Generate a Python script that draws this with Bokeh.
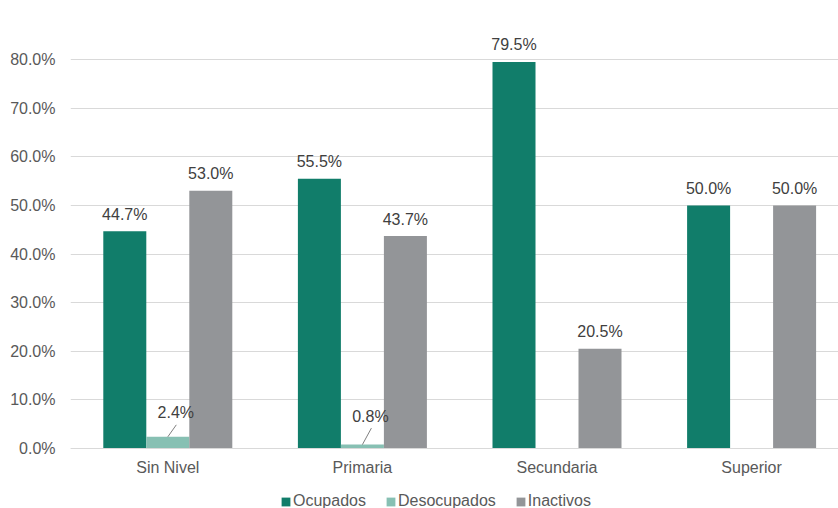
from bokeh.plotting import figure
from bokeh.models import (ColumnDataSource, Range1d, FixedTicker, PrintfTickFormatter,
                          Legend, LegendItem)
from bokeh.embed import file_html
from bokeh.resources import INLINE
from bokeh.core.properties import value

# ---- data ----
categories = ["Sin Nivel", "Primaria", "Secundaria", "Superior"]
ocupados = [44.7, 55.5, 79.5, 50.0]
desocupados = [2.4, 0.8, 0.0, 0.0]
inactivos = [53.0, 43.7, 20.5, 50.0]
series_names = ["Ocupados", "Desocupados", "Inactivos"]
y_ticks = [0, 10, 20, 30, 40, 50, 60, 70, 80]

# ---- style ----
colors = ["#117D6A", "#87C0B3", "#939598"]
FONT = "Liberation Sans"
W, H = 838, 508
LEFT, TOP = 70, 10
BELOW_ZERO = 60                 # pixels between the 0% line and the bottom edge
frame_w = W - LEFT
frame_h = H - TOP
cat_px = 194.6                 # pixels per category
px_per_pct = 389 / 80.0        # pixels per percentage point
x_end = frame_w / cat_px
y_start = -BELOW_ZERO / px_per_pct
y_end = (frame_h - BELOW_ZERO) / px_per_pct
bar_w = 43 / cat_px

p = figure(width=W, height=H, output_backend="svg", toolbar_location=None,
           x_range=Range1d(0, x_end), y_range=Range1d(y_start, y_end),
           min_border_left=LEFT, min_border_right=0, min_border_top=TOP,
           min_border_bottom=0, outline_line_color=None)

centers = [i + 0.5 for i in range(len(categories))]
offsets = [-bar_w, 0.0, bar_w]
series = [ocupados, desocupados, inactivos]

renderers = []
for k, (vals, col) in enumerate(zip(series, colors)):
    xs = [c + offsets[k] for c in centers]
    src = ColumnDataSource(dict(x=xs, top=vals))
    r = p.vbar(x="x", top="top", width=bar_w, bottom=0, source=src,
               fill_color=col, line_color=None)
    renderers.append(r)

# data labels for Ocupados and Inactivos (above bars)
for k in (0, 2):
    xs = [c + offsets[k] for c in centers]
    vals = series[k]
    src = ColumnDataSource(dict(x=xs, y=vals, t=[f"{v:.1f}%" for v in vals]))
    p.text(x="x", y="y", text="t", source=src, text_align="center",
           text_baseline="middle", y_offset=-17, text_color="#404040",
           text_font=value(FONT), text_font_size="16px")

# data labels for Desocupados (with leader lines), only non-zero
dx, dy, lt, lx = [], [], [], []
lab_dy = [-24.5, -28]
line_top = [-12, -16.5]
line_dx = [8.5, 9]
seg = dict(x0=[], y0=[], x1=[], y1=[])
j = 0
for c, v in zip(centers, desocupados):
    if v <= 0:
        continue
    xc = c + offsets[1]
    dx.append(xc + 8 / cat_px)
    dy.append(v)
    lt.append(f"{v:.1f}%")
    lx.append(lab_dy[j])
    seg["x0"].append(xc)
    seg["y0"].append(v)
    seg["x1"].append(xc + line_dx[j] / cat_px)
    seg["y1"].append(v - line_top[j] / px_per_pct)
    j += 1
p.segment(x0="x0", y0="y0", x1="x1", y1="y1", source=ColumnDataSource(seg),
          line_color="#7f7f7f", line_width=1)
p.text(x="x", y="y", text="t", y_offset="yo",
       source=ColumnDataSource(dict(x=dx, y=dy, t=lt, yo=lx)),
       text_align="center", text_baseline="middle", text_color="#404040",
       text_font=value(FONT), text_font_size="16px")

# ---- axes ----
p.xaxis.fixed_location = 0
p.xaxis.ticker = FixedTicker(ticks=centers)
p.xaxis.major_label_overrides = {c: n for c, n in zip(centers, categories)}
p.xaxis.major_tick_line_color = None
p.xaxis.major_tick_out = 0
p.xaxis.major_tick_in = 0
p.xaxis.minor_tick_line_color = None
p.xaxis.axis_line_color = "#d9d9d9"
p.xaxis.major_label_standoff = 10
p.xaxis.major_label_text_font = FONT
p.xaxis.major_label_text_font_size = "16px"
p.xaxis.major_label_text_color = "#595959"

p.yaxis.ticker = FixedTicker(ticks=y_ticks)
p.yaxis.formatter = PrintfTickFormatter(format="%.1f%%")
p.yaxis.axis_line_color = None
p.yaxis.major_tick_line_color = None
p.yaxis.major_tick_out = 0
p.yaxis.major_tick_in = 0
p.yaxis.minor_tick_line_color = None
p.yaxis.major_label_standoff = 15
p.yaxis.major_label_text_font = FONT
p.yaxis.major_label_text_font_size = "16px"
p.yaxis.major_label_text_color = "#595959"

p.xgrid.grid_line_color = None
p.ygrid.grid_line_color = "#d9d9d9"
p.ygrid.grid_line_width = 1

# ---- legend ----
items = [LegendItem(label=n, renderers=[r]) for n, r in zip(series_names, renderers)]
legend = Legend(items=items, orientation="horizontal", location=(210, -2),
                margin=0, padding=0,
                glyph_width=11, glyph_height=11, label_standoff=2, spacing=19,
                label_height=16, border_line_color=None,
                background_fill_alpha=0,
                label_text_font=FONT, label_text_font_size="16px",
                label_text_color="#595959")
p.add_layout(legend, "center")

open("out.html", "w").write(file_html(p, INLINE))
